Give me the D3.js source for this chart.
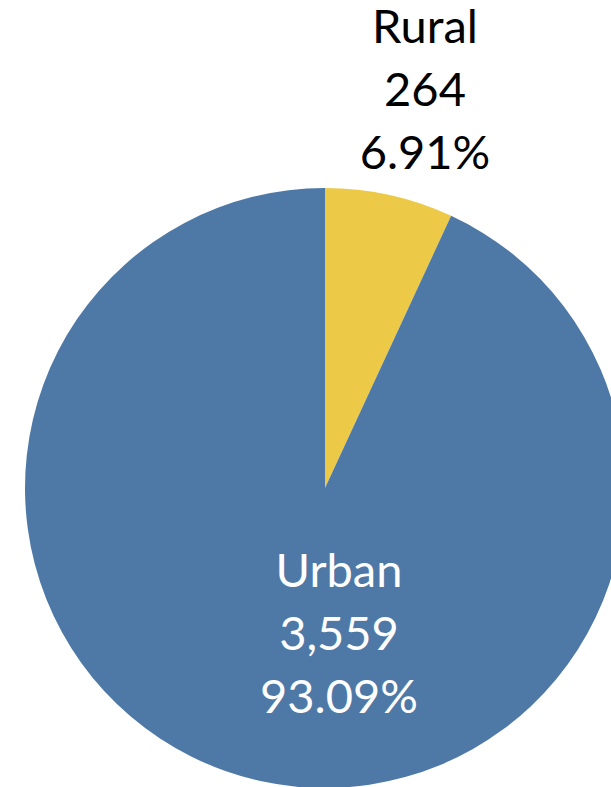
<!DOCTYPE html>
<html><head><meta charset="utf-8">
<script src="https://cdn.jsdelivr.net/npm/d3@7"></script>
<style>html,body{margin:0;padding:0;background:#fff;overflow:hidden}</style>
</head><body>
<svg id="c" width="611" height="787"></svg>
<script>
const categories = ["Rural", "Urban"];
const values = [264, 3559];
const percentLabels = ["6.91%", "93.09%"];
const colors = ["#EDC948", "#4E79A7"];

const svg = d3.select("#c");
const cx = 325, cy = 488, r = 300;
const g = svg.append("g").attr("transform", `translate(${cx},${cy})`);
const pie = d3.pie().sort(null).value(d => d);
const arcs = pie(values);
const arc = d3.arc().innerRadius(0).outerRadius(r);
g.selectAll("path").data(arcs).enter().append("path")
  .attr("d", arc).attr("fill", (d, i) => colors[i]);

const fmt = d3.format(",");
const labelPos = [[425, 43], [339, 587]];
const textColors = ["#000", "#fff"];
categories.forEach((c, i) => {
  const t = svg.append("text")
    .attr("x", labelPos[i][0]).attr("y", labelPos[i][1])
    .attr("text-anchor", "middle")
    .attr("font-family", "Lato, 'Open Sans', sans-serif")
    .attr("font-size", 47)
    .attr("fill", textColors[i]);
  [c, fmt(values[i]), percentLabels[i]].forEach((s, k) => {
    t.append("tspan").attr("x", labelPos[i][0]).attr("dy", k === 0 ? 0 : 63).text(s);
  });
});
</script>
</body></html>
